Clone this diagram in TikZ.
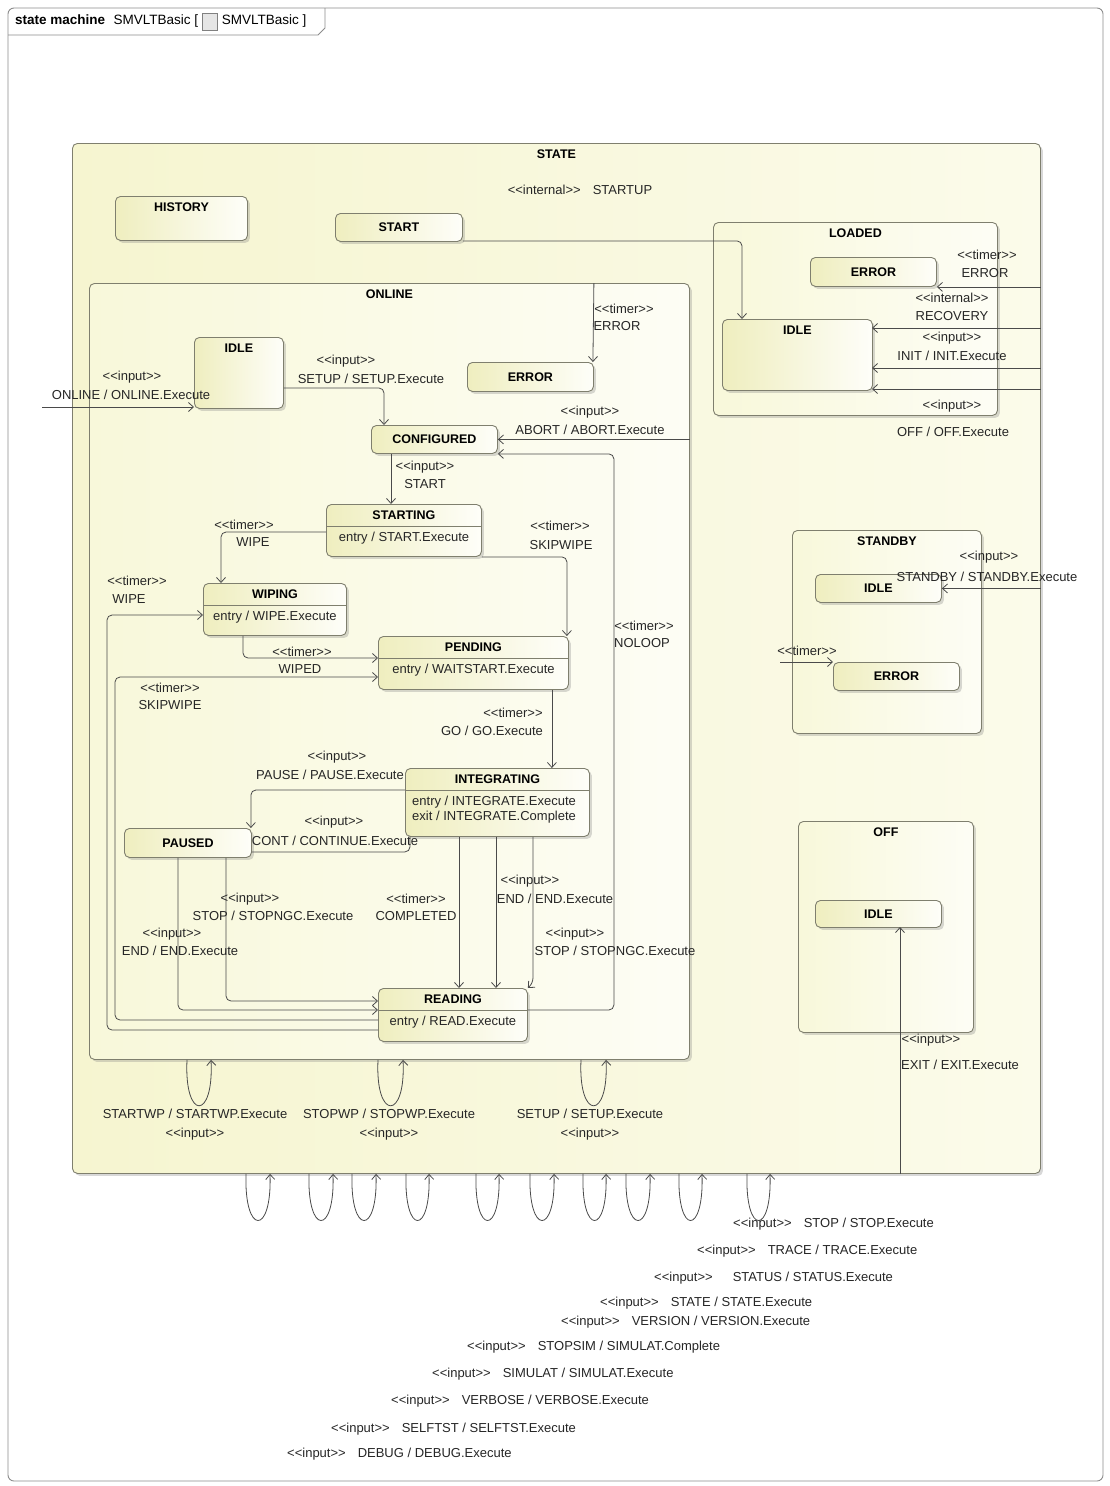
\documentclass[tikz,border=0pt]{standalone}
\usepackage{fontspec}
\newfontfamily\diafont{Liberation Sans}
\usetikzlibrary{positioning,shadows,arrows.meta}
\definecolor{boxline}{HTML}{7F7F6E}
\definecolor{wire}{HTML}{4A4A4A}
\definecolor{statel}{HTML}{F6F5D0}
\definecolor{stater}{HTML}{FBFBEA}
\definecolor{compl}{HTML}{F8F8DA}
\definecolor{compr}{HTML}{FDFDF5}
\definecolor{simpl}{HTML}{EFEEBF}
\definecolor{simpr}{HTML}{FEFEF9}
\definecolor{framec}{HTML}{8C8C8C}
\begin{document}
\begin{tikzpicture}[x=1pt,y=-1pt,
  stbox/.style = {draw=boxline, line width=0.9pt, rounded corners=5pt, anchor=north west, inner sep=0pt,
    drop shadow={opacity=0.3, shadow xshift=2.5pt, shadow yshift=-2.5pt}},
  cbox/.style = {stbox, left color=compl, right color=compr},
  sbox/.style = {stbox, left color=simpl, right color=simpr, font=\diafont\bfseries\fontsize{12.5}{14}\selectfont},
  ttl/.style = {inner sep=0pt, font=\diafont\bfseries\fontsize{12.5}{14}\selectfont},
  lbl/.style = {inner sep=0pt, text=black!85, font=\diafont\fontsize{13}{15}\selectfont},
  tabtxt/.style = {inner sep=0pt, font=\diafont\fontsize{13.5}{15}\selectfont},
  tr/.style = {draw=wire, line width=0.8pt, rounded corners=5pt, -{Straight Barb[length=5pt,width=9pt]}},
  div/.style = {draw=boxline, line width=0.7pt}]
\useasboundingbox (0,0) rectangle (1110,1486);
\fill[white] (0,0) rectangle (1110,1486);
\draw[framec, line width=0.9pt, rounded corners=6pt] (8,8) rectangle (1103,1481);
\draw[framec, line width=0.9pt] (8,35) -- (318,35) -- (325,28) -- (325,8);
\node[tabtxt, font=\diafont\bfseries\fontsize{13.5}{15}\selectfont, anchor=west] (smkind) at (15,20) {state machine};
\node[tabtxt, base right=8pt of smkind] (smname) {SMVLTBasic [};
\node[draw=gray, fill=gray!20, minimum width=15pt, minimum height=17pt, inner sep=0pt, right=4pt of smname] (smicon) {};
\node[tabtxt, right=4pt of smicon] (smref) {SMVLTBasic ]};

\node[stbox, left color=statel, right color=stater, minimum width=968pt, minimum height=1030pt] (state) at (72,143) {};
\node[ttl, below=6.5pt of state.north] (statet) {STATE};
\node[lbl] (startup) at (580,190) {<<internal>>\hspace{12pt}STARTUP};

\node[sbox, minimum width=132pt, minimum height=44pt] (history) at (115,196) {};
\node[ttl, below=6.5pt of history.north] (historyt) {HISTORY};
\node[sbox, minimum width=127pt, minimum height=28pt] (start) at (335,213) {START};

\node[cbox, minimum width=284pt, minimum height=193pt] (loaded) at (713,222) {};
\node[ttl, below=6.5pt of loaded.north] (loadedt) {LOADED};
\node[sbox, minimum width=126pt, minimum height=29pt] (lerr) at (810,257) {ERROR};
\node[sbox, minimum width=150pt, minimum height=71pt] (lidle) at (722,319) {};
\node[ttl, below=6.5pt of lidle.north] (lidlet) {IDLE};

\node[cbox, minimum width=600pt, minimum height=776pt] (online) at (89,283) {};
\node[ttl, below=6.5pt of online.north] (onlinet) {ONLINE};
\node[sbox, minimum width=89pt, minimum height=71pt] (oidle) at (194,337) {};
\node[ttl, below=6.5pt of oidle.north] (oidlet) {IDLE};
\node[sbox, minimum width=126pt, minimum height=29pt] (oerr) at (467,362) {ERROR};
\node[sbox, minimum width=126pt, minimum height=28pt] (conf) at (371,425) {CONFIGURED};

\node[sbox, minimum width=155pt, minimum height=52pt] (starting) at (326,504) {};
\node[ttl, below=6.5pt of starting.north] (startingt) {STARTING};
\draw[div] ([yshift=-22pt]starting.north west) -- ([yshift=-22pt]starting.north east);
\node[lbl] (startinge) at ([yshift=-34pt]starting.north) {entry / START.Execute};

\node[sbox, minimum width=143pt, minimum height=52pt] (wiping) at (203,583) {};
\node[ttl, below=6.5pt of wiping.north] (wipingt) {WIPING};
\draw[div] ([yshift=-22pt]wiping.north west) -- ([yshift=-22pt]wiping.north east);
\node[lbl] (wipinge) at ([yshift=-34pt]wiping.north) {entry / WIPE.Execute};

\node[sbox, minimum width=190pt, minimum height=53pt] (pending) at (378,636) {};
\node[ttl, below=6.5pt of pending.north] (pendingt) {PENDING};
\draw[div] ([yshift=-22pt]pending.north west) -- ([yshift=-22pt]pending.north east);
\node[lbl] (pendinge) at ([yshift=-34pt]pending.north) {entry / WAITSTART.Execute};

\node[sbox, minimum width=184pt, minimum height=68pt] (integ) at (405,768) {};
\node[ttl, below=6.5pt of integ.north] (integt) {INTEGRATING};
\draw[div] ([yshift=-22pt]integ.north west) -- ([yshift=-22pt]integ.north east);
\node[lbl, align=left, anchor=west] (intege) at ([xshift=7pt,yshift=-41.5pt]integ.north west) {entry / INTEGRATE.Execute\\exit / INTEGRATE.Complete};

\node[sbox, minimum width=127pt, minimum height=29pt] (paused) at (124,828) {PAUSED};

\node[sbox, minimum width=149pt, minimum height=53pt] (reading) at (378,988) {};
\node[ttl, below=6.5pt of reading.north] (readingt) {READING};
\draw[div] ([yshift=-22pt]reading.north west) -- ([yshift=-22pt]reading.north east);
\node[lbl] (readinge) at ([yshift=-34pt]reading.north) {entry / READ.Execute};

\node[cbox, minimum width=189pt, minimum height=203pt] (standby) at (792,530) {};
\node[ttl, below=6.5pt of standby.north] (standbyt) {STANDBY};
\node[sbox, minimum width=126pt, minimum height=28pt] (sidle) at (815,574) {IDLE};
\node[sbox, minimum width=126pt, minimum height=28pt] (serr) at (833,662) {ERROR};

\node[cbox, minimum width=175pt, minimum height=211pt] (off) at (798,821) {};
\node[ttl, below=6.5pt of off.north] (offt) {OFF};
\node[sbox, minimum width=126pt, minimum height=27pt] (offidle) at (815,900) {IDLE};

\coordinate (recv) at (872,328);
\coordinate (initp) at (872,368);
\coordinate (offp) at (872,389);
\coordinate (onlin) at (42,407);
\coordinate (serrin) at (780,662);
\coordinate (exitp) at (900,927);

\draw[tr] ([yshift=1pt]start.south east) -| ([xshift=20pt]lidle.north west);
\draw[tr] (state.east |- lerr.south east) -- (lerr.south east);
\draw[tr] (recv -| state.east) -- (recv);
\draw[tr] (initp -| state.east) -- (initp);
\draw[tr] (offp -| state.east) -- (offp);
\draw[tr] (oerr.north east |- online.north) -- ([xshift=-1pt]oerr.north east);
\draw[tr] (onlin) -- (onlin -| oidle.west);
\draw[tr] ([yshift=-51pt]oidle.north east) -| ([xshift=13pt]conf.north west);
\draw[tr] (online.east |- conf.east) -- (conf.east);
\draw[tr] ([xshift=20pt]conf.south west) -- ([xshift=20pt]conf.south west |- starting.north);
\draw[tr] ([yshift=-28pt]starting.north west) -| ([xshift=18pt]wiping.north west);
\draw[tr] (starting.south east) -| ([xshift=-2pt]pending.north east);
\draw[tr] ([xshift=40pt]wiping.south west) |- ([yshift=-22pt]pending.north west);
\draw[tr] ([yshift=-42pt]reading.north west) -| ([xshift=-96pt,yshift=-32pt]wiping.north west) -- ([yshift=-32pt]wiping.north west);
\draw[tr] ([yshift=-32pt]reading.north west) -| ([xshift=-263pt,yshift=-41pt]pending.north west) -- ([yshift=-41pt]pending.north west);
\draw[tr] ([xshift=-17pt]pending.south east) -- ([xshift=-17pt]pending.south east |- integ.north);
\draw[tr] ([yshift=-22pt]integ.north west) -| ([xshift=-1pt]paused.north east);
\draw[tr, -] ([yshift=6pt]paused.south east) -| ([xshift=5pt]integ.south west);
\draw[tr] ([xshift=54pt]paused.south west) |- ([yshift=-22pt]reading.north west);
\draw[tr] ([xshift=102pt]paused.south west) |- ([yshift=-13pt]reading.north west);
\draw[tr] ([xshift=54pt]integ.south west) -- ([xshift=54pt]integ.south west |- reading.north);
\draw[tr] ([xshift=91pt]integ.south west) -- ([xshift=91pt]integ.south west |- reading.north);
\draw[tr] ([xshift=128pt]integ.south west) -- ([xshift=128pt,yshift=-146pt]integ.south west) -- (reading.north east);
\draw[tr] ([yshift=-22pt]reading.north east) -| ([xshift=116pt]conf.south east) -- (conf.south east);
\draw[tr] (state.east |- sidle.east) -- (sidle.east);
\draw[tr] (serrin) -- (serrin -| serr.west);
\draw[tr] (exitp |- state.south) -- (exitp);

\draw[tr] ([xshift=98pt]online.south west) .. controls +(-3,61) and +(3,61) .. ([xshift=122pt]online.south west);
\draw[tr] ([xshift=289pt]online.south west) .. controls +(-3,61) and +(3,61) .. ([xshift=314pt]online.south west);
\draw[tr] ([xshift=492pt]online.south west) .. controls +(-3,61) and +(3,61) .. ([xshift=517pt]online.south west);

\draw[tr] ([xshift=174pt]state.south west) .. controls +(-2,62) and +(2,62) .. ([xshift=198pt]state.south west);
\draw[tr] ([xshift=237pt]state.south west) .. controls +(-2,62) and +(2,62) .. ([xshift=261pt]state.south west);
\draw[tr] ([xshift=280pt]state.south west) .. controls +(-2,62) and +(2,62) .. ([xshift=304pt]state.south west);
\draw[tr] ([xshift=334pt]state.south west) .. controls +(-2,62) and +(2,62) .. ([xshift=357pt]state.south west);
\draw[tr] ([xshift=404pt]state.south west) .. controls +(-2,62) and +(2,62) .. ([xshift=427pt]state.south west);
\draw[tr] ([xshift=458pt]state.south west) .. controls +(-2,62) and +(2,62) .. ([xshift=482pt]state.south west);
\draw[tr] ([xshift=511pt]state.south west) .. controls +(-2,62) and +(2,62) .. ([xshift=534pt]state.south west);
\draw[tr] ([xshift=554pt]state.south west) .. controls +(-2,62) and +(2,62) .. ([xshift=578pt]state.south west);
\draw[tr] ([xshift=607pt]state.south west) .. controls +(-2,62) and +(2,62) .. ([xshift=630pt]state.south west);
\draw[tr] ([xshift=675pt]state.south west) .. controls +(-2,62) and +(2,62) .. ([xshift=698pt]state.south west);

\node[lbl] (lerrs) at (987,255) {<<timer>>};
\node[lbl] (lerre) at (985,273) {ERROR};
\node[lbl] (recs) at (952,298) {<<internal>>};
\node[lbl] (rece) at (952,316) {RECOVERY};
\node[lbl] (inits) at (952,338) {<<input>>};
\node[lbl] (inite) at (952,356) {INIT / INIT.Execute};
\node[lbl] (offs) at (952,406) {<<input>>};
\node[lbl] (offe) at (953,432) {OFF / OFF.Execute};
\node[lbl] (oerrs) at (624,309) {<<timer>>};
\node[lbl] (oerre) at (617,326) {ERROR};
\node[lbl] (onls) at (132,377) {<<input>>};
\node[lbl] (onle) at (131,395) {ONLINE / ONLINE.Execute};
\node[lbl] (setups) at (346,361) {<<input>>};
\node[lbl] (setupe) at (371,379) {SETUP / SETUP.Execute};
\node[lbl] (aborts) at (590,412) {<<input>>};
\node[lbl] (aborte) at (590,430) {ABORT / ABORT.Execute};
\node[lbl] (starts) at (425,467) {<<input>>};
\node[lbl] (starte) at (425,484) {START};
\node[lbl] (wipes) at (244,525) {<<timer>>};
\node[lbl] (wipee) at (253,542) {WIPE};
\node[lbl] (skips) at (560,526) {<<timer>>};
\node[lbl] (skipe) at (561,545) {SKIPWIPE};
\node[lbl] (rwipes) at (137,581) {<<timer>>};
\node[lbl] (rwipee) at (129,599) {WIPE};
\node[lbl] (wipeds) at (302,652) {<<timer>>};
\node[lbl] (wipede) at (300,669) {WIPED};
\node[lbl] (rskips) at (170,688) {<<timer>>};
\node[lbl] (rskipe) at (170,705) {SKIPWIPE};
\node[lbl] (noloops) at (644,626) {<<timer>>};
\node[lbl] (noloope) at (642,643) {NOLOOP};
\node[lbl] (gos) at (513,713) {<<timer>>};
\node[lbl] (goe) at (492,731) {GO / GO.Execute};
\node[lbl] (pauses) at (337,757) {<<input>>};
\node[lbl] (pausee) at (330,775) {PAUSE / PAUSE.Execute};
\node[lbl] (conts) at (334,822) {<<input>>};
\node[lbl] (conte) at (335,841) {CONT / CONTINUE.Execute};
\node[lbl] (pstops) at (250,899) {<<input>>};
\node[lbl] (pstope) at (273,916) {STOP / STOPNGC.Execute};
\node[lbl] (compls) at (416,899) {<<timer>>};
\node[lbl] (comple) at (416,916) {COMPLETED};
\node[lbl] (iends) at (530,881) {<<input>>};
\node[lbl] (iende) at (555,899) {END / END.Execute};
\node[lbl] (pends) at (172,934) {<<input>>};
\node[lbl] (pende) at (180,951) {END / END.Execute};
\node[lbl] (istops) at (575,934) {<<input>>};
\node[lbl] (istope) at (615,951) {STOP / STOPNGC.Execute};
\node[lbl] (stbys) at (989,557) {<<input>>};
\node[lbl] (stbye) at (987,577) {STANDBY / STANDBY.Execute};
\node[lbl] (serrs) at (807,651) {<<timer>>};
\node[lbl] (exits) at (931,1040) {<<input>>};
\node[lbl] (exite) at (960,1065) {EXIT / EXIT.Execute};

\node[lbl] (swpe) at (195,1114) {STARTWP / STARTWP.Execute};
\node[lbl] (swps) at (195,1134) {<<input>>};
\node[lbl] (stwpe) at (389,1114) {STOPWP / STOPWP.Execute};
\node[lbl] (stwps) at (389,1134) {<<input>>};
\node[lbl] (osete) at (590,1114) {SETUP / SETUP.Execute};
\node[lbl] (osets) at (590,1134) {<<input>>};

\node[lbl, anchor=west] (stopl) at (733,1224) {<<input>>\hspace{12pt}STOP / STOP.Execute};
\node[lbl, anchor=west] (tracel) at (697,1251) {<<input>>\hspace{12pt}TRACE / TRACE.Execute};
\node[lbl, anchor=west] (statusl) at (654,1278) {<<input>>\hspace{20pt}STATUS / STATUS.Execute};
\node[lbl, anchor=west] (statel) at (600,1303) {<<input>>\hspace{12pt}STATE / STATE.Execute};
\node[lbl, anchor=west] (versionl) at (561,1322) {<<input>>\hspace{12pt}VERSION / VERSION.Execute};
\node[lbl, anchor=west] (stopsiml) at (467,1347) {<<input>>\hspace{12pt}STOPSIM / SIMULAT.Complete};
\node[lbl, anchor=west] (simulatl) at (432,1374) {<<input>>\hspace{12pt}SIMULAT / SIMULAT.Execute};
\node[lbl, anchor=west] (verbosel) at (391,1401) {<<input>>\hspace{12pt}VERBOSE / VERBOSE.Execute};
\node[lbl, anchor=west] (selftstl) at (331,1429) {<<input>>\hspace{12pt}SELFTST / SELFTST.Execute};
\node[lbl, anchor=west] (debugl) at (287,1454) {<<input>>\hspace{12pt}DEBUG / DEBUG.Execute};
\end{tikzpicture}
\end{document}
